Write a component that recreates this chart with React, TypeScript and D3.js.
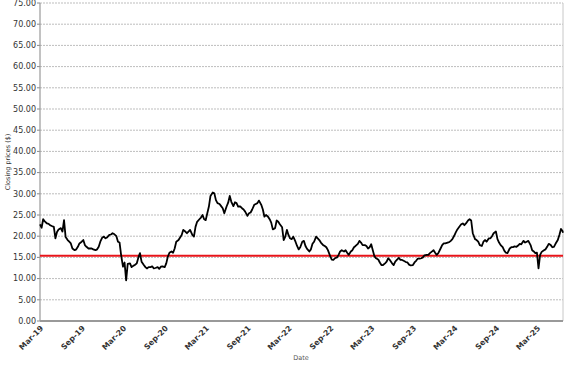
import React from "react";
import * as d3 from "d3";

const dates: string[] = [
  "2019-03-01","2019-03-08","2019-03-15","2019-03-22","2019-04-01","2019-04-08","2019-04-15","2019-04-22",
  "2019-05-01","2019-05-08","2019-05-15","2019-05-22","2019-06-01","2019-06-08","2019-06-15","2019-06-22",
  "2019-07-01","2019-07-08","2019-07-15","2019-07-22","2019-08-01","2019-08-08","2019-08-15","2019-08-22",
  "2019-09-01","2019-09-08","2019-09-15","2019-09-22","2019-10-01","2019-10-08","2019-10-15","2019-10-22",
  "2019-11-01","2019-11-08","2019-11-15","2019-11-22","2019-12-01","2019-12-08","2019-12-15","2019-12-22",
  "2020-01-01","2020-01-08","2020-01-15","2020-01-22","2020-02-01","2020-02-08","2020-02-15","2020-02-22",
  "2020-03-01","2020-03-08","2020-03-15","2020-03-22","2020-04-01","2020-04-08","2020-04-15","2020-04-22",
  "2020-05-01","2020-05-08","2020-05-15","2020-05-22","2020-06-01","2020-06-08","2020-06-15","2020-06-22",
  "2020-07-01","2020-07-08","2020-07-15","2020-07-22","2020-08-01","2020-08-08","2020-08-15","2020-08-22",
  "2020-09-01","2020-09-08","2020-09-15","2020-09-22","2020-10-01","2020-10-08","2020-10-15","2020-10-22",
  "2020-11-01","2020-11-08","2020-11-15","2020-11-22","2020-12-01","2020-12-08","2020-12-15","2020-12-22",
  "2021-01-01","2021-01-08","2021-01-15","2021-01-22","2021-02-01","2021-02-08","2021-02-15","2021-02-22",
  "2021-03-01","2021-03-08","2021-03-15","2021-03-22","2021-04-01","2021-04-08","2021-04-15","2021-04-22",
  "2021-05-01","2021-05-08","2021-05-15","2021-05-22","2021-06-01","2021-06-08","2021-06-15","2021-06-22",
  "2021-07-01","2021-07-08","2021-07-15","2021-07-22","2021-08-01","2021-08-08","2021-08-15","2021-08-22",
  "2021-09-01","2021-09-08","2021-09-15","2021-09-22","2021-10-01","2021-10-08","2021-10-15","2021-10-22",
  "2021-11-01","2021-11-08","2021-11-15","2021-11-22","2021-12-01","2021-12-08","2021-12-15","2021-12-22",
  "2022-01-01","2022-01-08","2022-01-15","2022-01-22","2022-02-01","2022-02-08","2022-02-15","2022-02-22",
  "2022-03-01","2022-03-08","2022-03-15","2022-03-22","2022-04-01","2022-04-08","2022-04-15","2022-04-22",
  "2022-05-01","2022-05-08","2022-05-15","2022-05-22","2022-06-01","2022-06-08","2022-06-15","2022-06-22",
  "2022-07-01","2022-07-08","2022-07-15","2022-07-22","2022-08-01","2022-08-08","2022-08-15","2022-08-22",
  "2022-09-01","2022-09-08","2022-09-15","2022-09-22","2022-10-01","2022-10-08","2022-10-15","2022-10-22",
  "2022-11-01","2022-11-08","2022-11-15","2022-11-22","2022-12-01","2022-12-08","2022-12-15","2022-12-22",
  "2023-01-01","2023-01-08","2023-01-15","2023-01-22","2023-02-01","2023-02-08","2023-02-15","2023-02-22",
  "2023-03-01","2023-03-08","2023-03-15","2023-03-22","2023-04-01","2023-04-08","2023-04-15","2023-04-22",
  "2023-05-01","2023-05-08","2023-05-15","2023-05-22","2023-06-01","2023-06-08","2023-06-15","2023-06-22",
  "2023-07-01","2023-07-08","2023-07-15","2023-07-22","2023-08-01","2023-08-08","2023-08-15","2023-08-22",
  "2023-09-01","2023-09-08","2023-09-15","2023-09-22","2023-10-01","2023-10-08","2023-10-15","2023-10-22",
  "2023-11-01","2023-11-08","2023-11-15","2023-11-22","2023-12-01","2023-12-08","2023-12-15","2023-12-22",
  "2024-01-01","2024-01-08","2024-01-15","2024-01-22","2024-02-01","2024-02-08","2024-02-15","2024-02-22",
  "2024-03-01","2024-03-08","2024-03-15","2024-03-22","2024-04-01","2024-04-08","2024-04-15","2024-04-22",
  "2024-05-01","2024-05-08","2024-05-15","2024-05-22","2024-06-01","2024-06-08","2024-06-15","2024-06-22",
  "2024-07-01","2024-07-08","2024-07-15","2024-07-22","2024-08-01","2024-08-08","2024-08-15","2024-08-22",
  "2024-09-01","2024-09-08","2024-09-15","2024-09-22","2024-10-01","2024-10-08","2024-10-15","2024-10-22",
  "2024-11-01","2024-11-08","2024-11-15","2024-11-22","2024-12-01","2024-12-08","2024-12-15","2024-12-22",
  "2025-01-01","2025-01-08","2025-01-15","2025-01-22","2025-02-01","2025-02-08","2025-02-15","2025-02-22",
  "2025-03-01","2025-03-08","2025-03-15","2025-03-22","2025-04-01","2025-04-08","2025-04-15","2025-04-22",
  "2025-05-01","2025-05-08","2025-05-15","2025-05-22","2025-06-01","2025-06-08","2025-06-15","2025-06-22",
  "2025-06-24"
];

const closes: number[] = [
  22.8, 22.0, 24.0, 23.5, 23.0, 22.9, 22.6, 22.4,
  22.2, 19.5, 21.0, 21.6, 21.9, 21.1, 23.8, 19.8,
  19.1, 18.7, 18.3, 17.1, 16.7, 16.9, 17.5, 18.3,
  18.7, 19.1, 17.9, 17.5, 17.1, 17.1, 17.1, 16.9,
  16.7, 16.9, 17.5, 18.7, 19.7, 19.9, 19.5, 19.7,
  20.3, 20.4, 20.7, 20.5, 20.0, 18.7, 18.5, 15.5,
  12.8, 13.8, 9.6, 13.5, 13.6, 12.7, 13.0, 13.2,
  13.6, 15.0, 16.0, 14.0, 13.2, 12.7, 12.4, 12.7,
  12.7, 12.9, 12.4, 12.5, 12.7, 12.3, 12.8, 12.9,
  12.7, 13.6, 15.2, 16.1, 16.4, 16.1, 17.1, 18.7,
  19.1, 19.7, 20.3, 21.5, 21.1, 20.7, 21.1, 21.5,
  20.3, 19.9, 22.2, 23.4, 24.0, 24.4, 25.0, 24.0,
  23.8, 25.4, 27.0, 29.5, 30.3, 30.1, 28.5, 27.8,
  27.6, 27.1, 26.6, 25.4, 27.0, 27.9, 29.5, 28.1,
  27.1, 28.0, 27.8, 27.0, 27.0, 26.6, 26.3, 25.8,
  24.8, 25.4, 25.6, 26.3, 27.4, 27.6, 27.8, 28.4,
  27.4, 26.3, 24.6, 25.0, 24.6, 24.0, 23.2, 21.6,
  21.9, 23.7, 23.4, 22.8, 22.1, 19.1, 19.9, 21.5,
  20.3, 19.5, 19.3, 19.9, 18.7, 17.7, 16.9, 17.4,
  18.7, 18.9, 17.7, 17.0, 16.4, 16.9, 18.2, 18.7,
  19.9, 19.5, 19.1, 18.5, 17.9, 17.7, 17.4, 16.7,
  15.3, 14.5, 14.4, 14.8, 15.0, 15.6, 16.4, 16.7,
  16.4, 16.7, 16.1, 15.6, 16.4, 16.7, 17.4, 17.7,
  18.2, 18.9, 18.5, 17.9, 17.9, 17.7, 17.1, 17.4,
  18.1, 16.7, 15.3, 14.8, 14.5, 13.8, 13.2, 13.2,
  13.6, 14.0, 14.8, 14.4, 13.6, 13.2, 14.0, 14.4,
  14.9, 14.4, 14.4, 14.2, 13.9, 13.8, 13.3, 13.1,
  13.2, 13.8, 14.2, 14.7, 14.7, 14.8, 15.0, 15.5,
  15.6, 15.6, 16.0, 16.3, 16.7, 16.1, 15.6, 16.0,
  17.1, 17.9, 18.3, 18.3, 18.5, 18.6, 18.9, 19.3,
  20.1, 20.9, 21.6, 22.1, 22.8, 23.0, 22.6, 23.0,
  23.7, 24.0, 23.7, 20.7, 19.3, 19.1, 18.7, 17.9,
  17.7, 18.7, 19.1, 18.7, 19.5, 19.5, 20.0, 20.7,
  21.1, 19.3, 18.5, 17.9, 17.4, 16.6, 16.1, 16.0,
  17.1, 17.4, 17.4, 17.6, 17.5, 17.8, 18.2, 18.1,
  18.9, 18.5, 18.7, 18.9, 17.9, 16.7, 16.4, 16.0,
  16.1, 12.4, 15.6, 16.3, 16.7, 16.9, 17.5, 18.2,
  17.9, 17.4, 17.5, 18.2, 19.1, 20.3, 21.7, 21.2,
  20.8
];

const referenceLevel = 15.4;
const yTicks: number[] = [0, 5, 10, 15, 20, 25, 30, 35, 40, 45, 50, 55, 60, 65, 70, 75];
const xTickDates: string[] = [
  "2019-03-01","2019-09-01","2020-03-01","2020-09-01","2021-03-01","2021-09-01","2022-03-01",
  "2022-09-01","2023-03-01","2023-09-01","2024-03-01","2024-09-01","2025-03-01"
];
const domainStart = "2019-03-01";
const domainEnd = "2025-06-24";

const W = 577, H = 367;
const L = 40, R = 563, T = 3, B = 321;

export default function App() {
  const parse = d3.timeParse("%Y-%m-%d");
  const fmt = d3.timeFormat("%b-%y");
  const x = d3.scaleTime().domain([parse(domainStart)!, parse(domainEnd)!]).range([L, R]);
  const y = d3.scaleLinear().domain([0, 75]).range([B, T]);
  const data = dates.map((d, i) => ({ d: parse(d)!, v: closes[i] }));
  const line = d3.line<{ d: Date; v: number }>().x(p => x(p.d)).y(p => y(p.v));
  const font = "'DejaVu Sans', Verdana, sans-serif";

  return (
    <svg width={W} height={H} style={{ position: "absolute", left: 0, top: 0, background: "#fff" }}>
      <rect x={0} y={0} width={W} height={H} fill="#fff" />
      {yTicks.map(t => (
        <g key={t}>
          {t > 0 && (
            <line x1={L} x2={R} y1={y(t)} y2={y(t)} stroke="#bdbdbd" strokeWidth={1} strokeDasharray="2,1" />
          )}
          <line x1={L - 3} x2={L} y1={y(t)} y2={y(t)} stroke="#888" strokeWidth={1} />
          <text x={L - 4} y={y(t)} dy="0.35em" textAnchor="end" fontFamily={font} fontSize={8} fill="#333">
            {t.toFixed(2)}
          </text>
        </g>
      ))}
      <line x1={R} x2={R} y1={T} y2={B} stroke="#c8c8c8" strokeWidth={1} />
      <line x1={L} x2={L} y1={T} y2={B} stroke="#999" strokeWidth={1.2} />
      <line x1={L} x2={R} y1={B} y2={B} stroke="#999" strokeWidth={2} />
      {xTickDates.map(s => {
        const px = x(parse(s)!);
        return (
          <text key={s} transform={`translate(${px},${B + 4}) rotate(-45)`} textAnchor="end"
            fontFamily={font} fontSize={7.7} fontWeight="bold" fill="#333" dy="0.7em">
            {fmt(parse(s)!)}
          </text>
        );
      })}
      <line x1={L} x2={R} y1={y(referenceLevel)} y2={y(referenceLevel)} stroke="#e8141a" strokeWidth={2} />
      <path d={line(data) ?? ""} fill="none" stroke="#000" strokeWidth={1.8} strokeLinejoin="round" />
      <text transform={`translate(10,${(T + B) / 2}) rotate(-90)`} textAnchor="middle" fontFamily={font}
        fontSize={6.5} fill="#333">
        Closing prices ($)
      </text>
      <text x={301} y={360} textAnchor="middle" fontFamily={font} fontSize={6.5} fill="#555">
        Date
      </text>
    </svg>
  );
}
